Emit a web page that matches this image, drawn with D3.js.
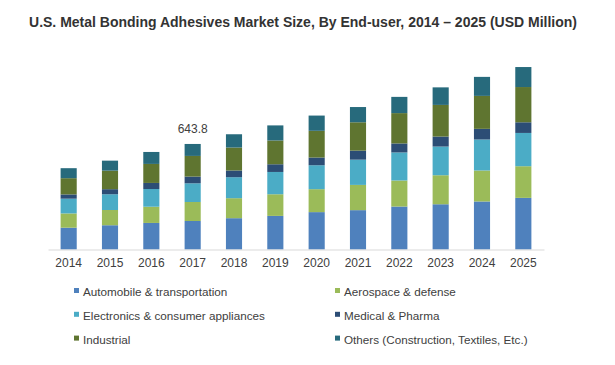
<!DOCTYPE html>
<html><head><meta charset="utf-8">
<script src="https://cdn.jsdelivr.net/npm/d3@7"></script>
<style>body{margin:0;background:#fff;}svg{display:block;font-family:"Liberation Sans",Arial,sans-serif;}</style>
</head><body><svg id="c" width="615" height="365"></svg>
<script>
const years = ["2014","2015","2016","2017","2018","2019","2020","2021","2022","2023","2024","2025"];
const seriesNames = ["Automobile & transportation","Aerospace & defense","Electronics & consumer appliances","Medical & Pharma","Industrial","Others (Construction, Textiles, Etc.)"];
const automobile = [133,148,162,173.8,191,205,228,240,262,276,293,315];
const aerospace  = [87,93,99,116,122,132,140,154,159,177,189,193];
const electronics= [90,96,108,114,128,136,146,154,171,175,189,203];
const medical    = [26,31,37,41,41,47,47,55,55,61,65,65];
const industrial = [99,113,116,126,140,145,163,173,185,193,201,215];
const others     = [61,61,73,73,81,92,93,93,99,107,116,122];
const colors = ["#4f81bd","#9bbb59","#4bacc6","#2c4d75","#5f7530","#276a7c"];
const annotation = {year:"2017", text:"643.8"};

const svg = d3.select("#c");
const seriesData = [automobile,aerospace,electronics,medical,industrial,others];
const rows = years.map((y,i)=>{const o={year:y}; seriesNames.forEach((n,k)=>o[n]=seriesData[k][i]); return o;});
const stack = d3.stack().keys(seriesNames)(rows);

const x = d3.scaleBand().domain(years).range([48,544]).paddingInner(0.61).paddingOuter(0.305);
const y = d3.scaleLinear().domain([0,1200]).range([249.5,249.5-1200/6.1]);

svg.append("text").attr("x",303).attr("y",27).attr("text-anchor","middle")
  .attr("font-size",14).attr("font-weight","bold").attr("fill","#333").text("U.S. Metal Bonding Adhesives Market Size, By End-user, 2014 – 2025 (USD Million)");

svg.append("g").selectAll("g").data(stack).join("g").attr("fill",(d,i)=>colors[i])
  .selectAll("rect").data(d=>d).join("rect")
  .attr("x",d=>x(d.data.year)).attr("width",x.bandwidth())
  .attr("y",d=>y(d[1])).attr("height",d=>y(d[0])-y(d[1]));

const xa = svg.append("g").attr("transform","translate(0,249.5)").call(d3.axisBottom(x).tickSize(0).tickPadding(9));
xa.select(".domain").attr("stroke","#d9d9d9");
xa.selectAll("text").attr("font-size",12).attr("fill","#404040").attr("font-family","Liberation Sans, Arial, sans-serif");

const total = rows.find(r=>r.year===annotation.year);
const tv = seriesNames.reduce((s,n)=>s+total[n],0);
svg.append("text").attr("x",x(annotation.year)+x.bandwidth()/2).attr("y",y(tv)-11)
  .attr("text-anchor","middle").attr("font-size",12).attr("fill","#404040").text(annotation.text);

const lg = svg.append("g");
seriesNames.forEach((n,i)=>{
  const col=i%2, row=Math.floor(i/2);
  const gx = col===0?74:335, gy = 292+row*23.8;
  lg.append("rect").attr("x",gx).attr("y",gy-4).attr("width",5).attr("height",5).attr("fill",colors[i]);
  lg.append("text").attr("x",gx+9).attr("y",gy+1).attr("dominant-baseline","middle").attr("font-size",11.7).attr("fill","#404040").text(n);
});
</script></body></html>
